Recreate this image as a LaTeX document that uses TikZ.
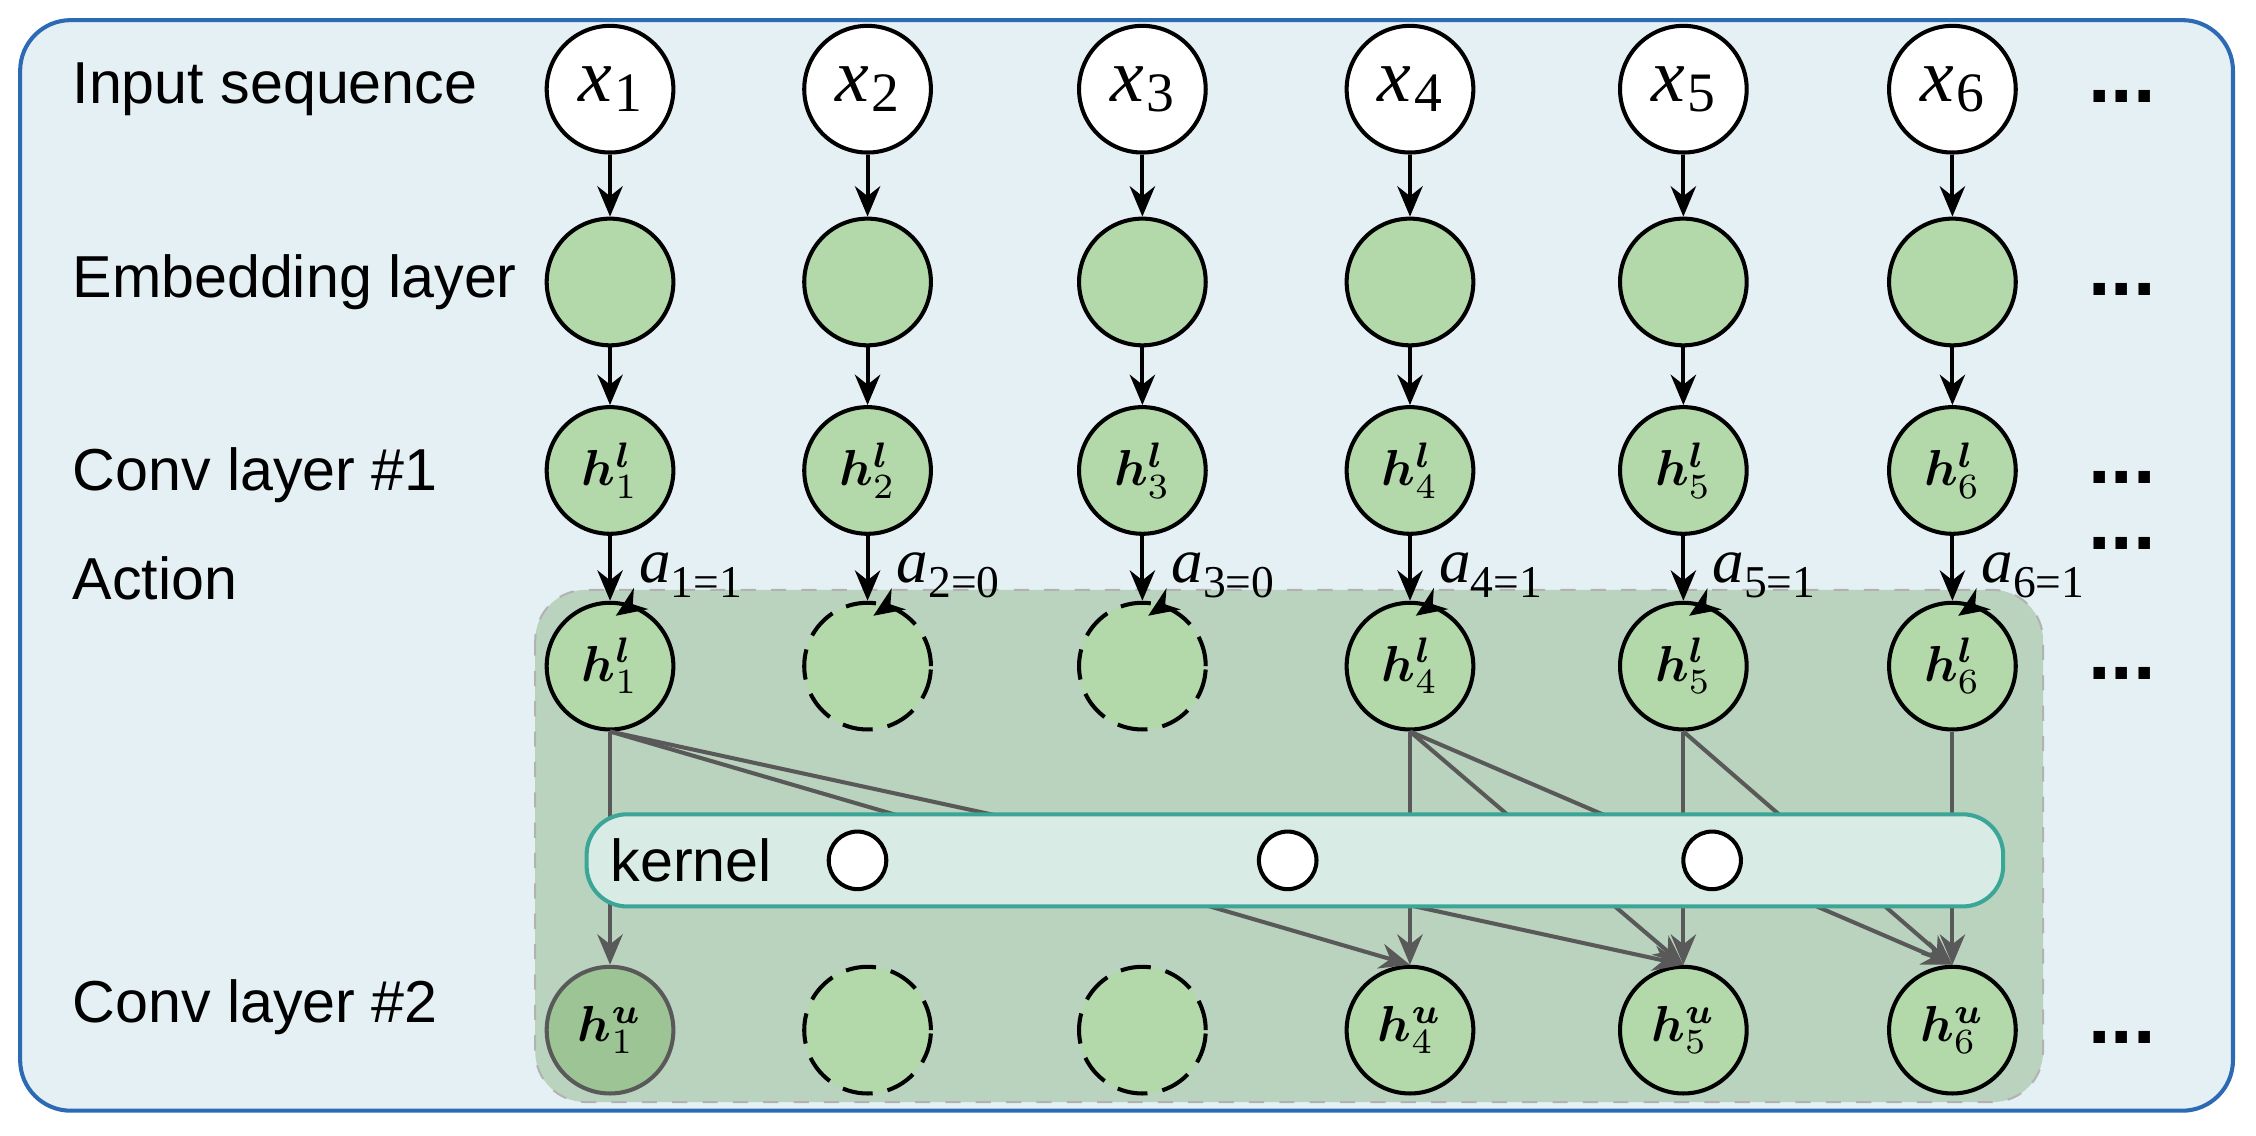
\documentclass[tikz,border=0pt]{standalone}
\usepackage{fontspec}
\usepackage{amsmath,bm}
\setmainfont{Liberation Sans}
\newfontfamily\tms{Liberation Serif}
\usetikzlibrary{arrows.meta}
\definecolor{bgblue}{HTML}{E5F0F5}
\definecolor{bdblue}{HTML}{2C6AB4}
\definecolor{ngreen}{HTML}{B3D8A9}
\definecolor{dgreen}{HTML}{9DC494}
\definecolor{region}{HTML}{B9D3BE}
\definecolor{kfill}{HTML}{D8EBE5}
\definecolor{kbd}{HTML}{3BA597}
\tikzset{
  nd/.style={circle,draw,thick,minimum size=0.88cm,inner sep=0pt,fill=ngreen},
  inp/.style={nd,fill=white},
  dsh/.style={nd,dashed,dash pattern=on 6pt off 3pt},
  kc/.style={circle,draw,thick,minimum size=0.4cm,fill=white,inner sep=0pt},
  lab/.style={anchor=west,font=\fontsize{11.7}{13}\selectfont},
  arr/.style={-{Stealth[length=6pt,width=5pt]},thick},
  garr/.style={arr,draw=black!65},
  dots/.style={font=\fontsize{16}{16}\selectfont\bfseries}
}
\newcommand{\hl}[2]{$\bm{h}^{\bm{#1}}_{#2}$}
\begin{document}
\begin{tikzpicture}[x=0.01cm,y=-0.01cm]
\useasboundingbox (0,0) rectangle (1568,789);
\draw[bdblue,thick,fill=bgblue,rounded corners=10pt] (14,14) rectangle (1552,772);
\fill[region,rounded corners=10pt] (372,410) rectangle (1420,766);
\draw[black!30,dashed,rounded corners=10pt] (372,410) rectangle (1420,766);
% labels
\node[lab] at (38,62) {Input sequence};
\node[lab] at (38,196) {Embedding layer};
\node[lab] at (38,330) {Conv layer \#1};
\node[lab] at (38,402) {Action};
\node[lab] at (38,700) {Conv layer \#2};
% columns
\foreach \i/\x in {1/424,2/603,3/794,4/980,5/1170,6/1357}{
  \node[inp] (x\i) at (\x,62) {\tms\fontsize{15}{15}\selectfont\itshape x\kern0.5pt\raisebox{-2pt}{\upshape\fontsize{11}{11}\selectfont\i}};
  \node[nd] (e\i) at (\x,196) {};
  \node[nd] (c\i) at (\x,327) {\hl{l}{\i}};
  \draw[arr] (x\i) -- (e\i);
  \draw[arr] (e\i) -- (c\i);
}
\foreach \i/\x in {1/424,4/980,5/1170,6/1357}{
  \node[nd] (s\i) at (\x,463) {\hl{l}{\i}};
}
\foreach \i/\x in {2/603,3/794}{
  \node[dsh] (s\i) at (\x,463) {};
  \node[dsh] (u\i) at (\x,716) {};
}
\node[nd,fill=dgreen,draw=black!65] (u1) at (424,716) {\hl{u}{1}};
\foreach \i/\x in {4/980,5/1170,6/1357}{
  \node[nd] (u\i) at (\x,716) {\hl{u}{\i}};
}
\foreach \i in {1,...,6}{ \draw[arr] (c\i) -- (s\i); }
% action labels
\foreach \i/\x/\v in {1/424/1,2/603/0,3/794/0,4/980/1,5/1170/1,6/1357/1}{
  \node[anchor=west,inner sep=1pt,font=\tms\fontsize{12.5}{13}\selectfont\itshape] (a\i) at (\x+16,400) {a\raisebox{-3pt}{\upshape\fontsize{9}{9}\selectfont\i=\v}};
  \coordinate (t\i) at (\x+4,428);
  \draw[arr] (a\i.south west) -- (t\i);
}
% connections
\draw[garr] (s1) -- (u1);
\draw[garr] (s1.south) -- (u4.north);
\draw[garr] (s1.south) -- (u5.north);
\draw[garr] (s4) -- (u4);
\draw[garr] (s4.south) -- (u5.north);
\draw[garr] (s4.south) -- (u6.north);
\draw[garr] (s5) -- (u5);
\draw[garr] (s5.south) -- (u6.north);
\draw[garr] (s6) -- (u6);
% kernel bar
\node[draw=kbd,thick,fill=kfill,rounded corners=8pt,minimum width=9.84cm,minimum height=0.64cm] (k) at (900,598) {};
\node[lab] at (412,598) {kernel};
\node[kc] (k1) at (596,598) {};
\node[kc] (k2) at (895,598) {};
\node[kc] (k3) at (1190,598) {};
% dots
\foreach \y in {62,196,327,463,716}{ \node[dots] at (1475,\y+5) {...}; }
\node[dots] at (1475,378) {...};
\end{tikzpicture}
\end{document}
